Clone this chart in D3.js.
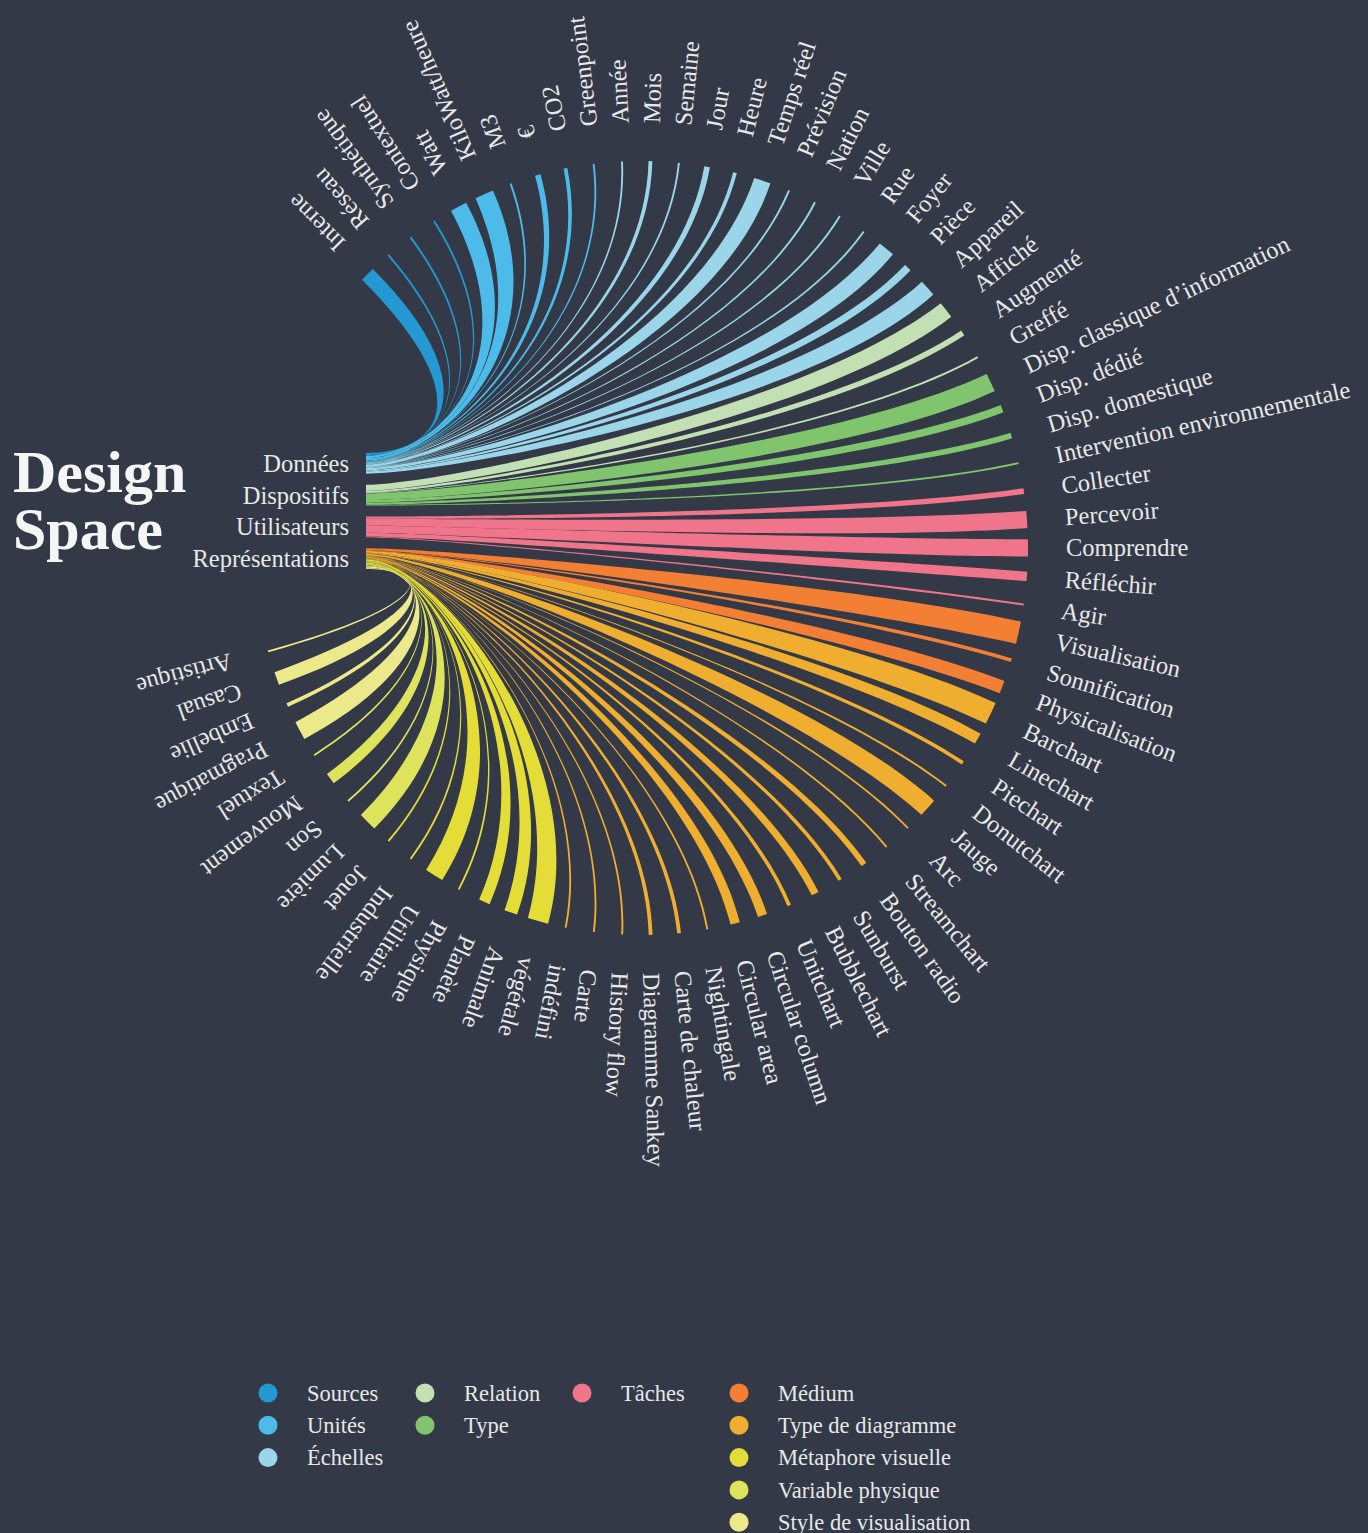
<!DOCTYPE html>
<html>
<head>
<meta charset="utf-8">
<script src="https://cdn.jsdelivr.net/npm/d3@7"></script>
<style>
  html, body { margin: 0; background: #333947; }
  svg { display: block; }
  text { font-family: "Liberation Serif", "DejaVu Serif", serif; fill: #e8e8e8; }
</style>
</head>
<body>
<svg id="chart" width="1368" height="1533"></svg>
<script>
  // Sources (left side)
  const sourceNames = ['Données', 'Dispositifs', 'Utilisateurs', 'Représentations'];

  // Categories (legend) and the source each one belongs to
  const groupNames = ['Sources', 'Unités', 'Échelles', 'Relation', 'Type', 'Tâches',
    'Médium', 'Type de diagramme', 'Métaphore visuelle', 'Variable physique', 'Style de visualisation'];
  const groupSource = [0, 0, 0, 1, 1, 2, 3, 3, 3, 3, 3];
  const groupSizes = [4, 6, 13, 3, 4, 5, 3, 19, 7, 4, 4];
  const groupColors = ['#2398d3', '#4dbbe9', '#9bd5ea', '#c3e0b5', '#80c56e', '#f0748a',
    '#f27f33', '#f0ae30', '#e4dd38', '#dde35a', '#ece98a'];

  // Targets, clockwise from upper left
  const targetLabels = [
    'Interne', 'Réseau', 'Synthétique', 'Contextuel',
    'Watt', 'KiloWatt/heure', 'M3', '€', 'CO2', 'Greenpoint',
    'Année', 'Mois', 'Semaine', 'Jour', 'Heure', 'Temps réel', 'Prévision', 'Nation', 'Ville', 'Rue', 'Foyer', 'Pièce', 'Appareil',
    'Affiché', 'Augmenté', 'Greffé',
    'Disp. classique d’information', 'Disp. dédié', 'Disp. domestique', 'Intervention environnementale',
    'Collecter', 'Percevoir', 'Comprendre', 'Réfléchir', 'Agir',
    'Visualisation', 'Sonnification', 'Physicalisation',
    'Barchart', 'Linechart', 'Piechart', 'Donutchart', 'Jauge', 'Arc', 'Streamchart', 'Bouton radio', 'Sunburst',
    'Bubblechart', 'Unitchart', 'Circular column', 'Circular area', 'Nightingale', 'Carte de chaleur',
    'Diagramme Sankey', 'History flow', 'Carte', 'indéfini',
    'végétale', 'Animale', 'Planète', 'Physique', 'Utilitaire', 'Industrielle', 'Jouet',
    'Lumière', 'Son', 'Mouvement', 'Textuel',
    'Pragmatique', 'Embellie', 'Casual', 'Artistique'
  ];
  const targetValues = [
    8, 1, 1, 1,
    9, 10, 1, 3, 2, 1,
    1, 2, 1, 3, 2, 9, 1, 1, 1, 1, 9, 4, 9,
    9, 3, 1,
    10, 4, 3, 1,
    3, 9, 9, 5, 1,
    12, 2, 7,
    12, 6, 2, 1, 10, 1, 1, 3, 2,
    4, 2, 5, 5, 1, 2,
    2, 1, 1, 1,
    11, 7, 6, 1, 10, 1, 1,
    10, 1, 6, 1,
    10, 2, 7, 1
  ];

  const svg = d3.select('#chart');

  // géométrie
  const cx = 641, cy = 548, R = 387, labelR = 425;
  const x0 = 366, handle = 70, rho = 0.55;

  // construire la liste des cibles
  const targets = [];
  groupSizes.forEach((n, g) => {
    for (let j = 0; j < n; j++) {
      const i = targets.length;
      targets.push({ i, label: targetLabels[i], value: targetValues[i], group: g, source: groupSource[g] });
    }
  });

  const angle = d3.scalePoint().domain(d3.range(targets.length)).range([225, 524.5]);
  const thickness = d3.scaleLinear().domain([0, 1]).range([0, 1.9]);
  const color = d3.scaleOrdinal(groupNames, groupColors);
  const ySource = d3.scaleBand().domain(sourceNames).range([453, 569]).paddingInner(0.35);

  // empilement des rubans sur chaque source
  sourceNames.forEach((s, si) => {
    const list = targets.filter(t => t.source === si);
    const total = d3.sum(list, t => t.value);
    const y = d3.scaleLinear().domain([0, total]).range([ySource(s), ySource(s) + ySource.bandwidth()]);
    let acc = 0;
    list.forEach(t => {
      t.y0 = y(acc);
      acc += t.value;
      t.y1 = y(acc);
    });
  });

  const rad = d => d * Math.PI / 180;

  function ribbonPath(t) {
    const a = rad(angle(t.i));
    const w = thickness(t.value);
    const hw = w / 2 / R;
    const a1 = a - hw, a2 = a + hw;
    // points de contrôle côté cercle : garder l'épaisseur du ruban
    const mx = cx + rho * R * Math.cos(a), my = cy + rho * R * Math.sin(a);
    const ox = (w / 2) * Math.sin(a), oy = -(w / 2) * Math.cos(a);
    const p = d3.path();
    p.moveTo(x0, t.y0);
    p.bezierCurveTo(x0 + handle, t.y0, mx + ox, my + oy,
      cx + R * Math.cos(a1), cy + R * Math.sin(a1));
    p.arc(cx, cy, R, a1, a2, false);
    p.bezierCurveTo(mx - ox, my - oy, x0 + handle, t.y1, x0, t.y1);
    p.closePath();
    return p.toString();
  }

  // rubans
  svg.append('g')
    .selectAll('path')
    .data(targets)
    .join('path')
    .attr('d', ribbonPath)
    .attr('fill', t => color(groupNames[t.group]));

  // étiquettes des cibles
  svg.append('g')
    .selectAll('text')
    .data(targets)
    .join('text')
    .attr('transform', t => `translate(${cx},${cy}) rotate(${angle(t.i)})`)
    .attr('x', labelR)
    .attr('dy', '0.35em')
    .attr('font-size', 24.5)
    .text(t => t.label);

  // étiquettes des sources
  svg.append('g')
    .selectAll('text')
    .data(sourceNames)
    .join('text')
    .attr('x', 349)
    .attr('y', s => ySource(s) + ySource.bandwidth() / 2)
    .attr('dy', '0.35em')
    .attr('text-anchor', 'end')
    .attr('font-size', 24.5)
    .text(s => s);

  // titre
  const title = svg.append('text')
    .attr('x', 13)
    .attr('font-size', 60)
    .attr('font-weight', 'bold')
    .style('fill', '#f5f5f5');
  title.append('tspan').attr('x', 13).attr('y', 492).text('Design');
  title.append('tspan').attr('x', 13).attr('y', 549).text('Space');

  // légende
  const rowIndex = groupNames.map((g, i) => groupSource.slice(0, i).filter(s => s === groupSource[i]).length);
  const legend = svg.append('g')
    .selectAll('g')
    .data(groupNames)
    .join('g')
    .attr('transform', (g, i) => `translate(${268 + 157 * groupSource[i]},${1393 + 32.3 * rowIndex[i]})`);

  legend.append('circle')
    .attr('r', 9.5)
    .attr('fill', g => color(g));

  legend.append('text')
    .attr('x', 39)
    .attr('dy', '0.35em')
    .attr('font-size', 22.5)
    .text(g => g);
</script>
</body>
</html>
